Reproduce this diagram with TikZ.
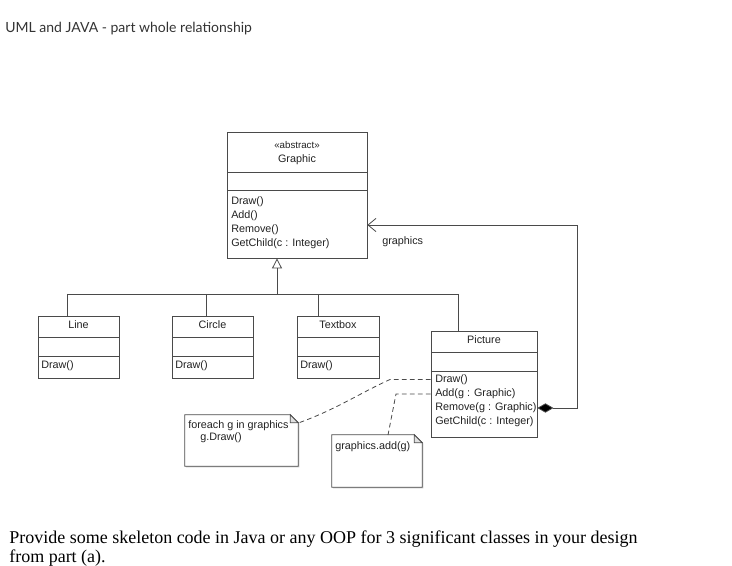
\documentclass[tikz,border=0pt]{standalone}
\usepackage{fontspec}
\setmainfont{Liberation Sans}
\newfontfamily\titlefont{Lato}
\newfontfamily\bodyserif{Liberation Serif}
\usetikzlibrary{arrows.meta,fit,calc,shadows}
\definecolor{umlline}{HTML}{4A4A4A}
\definecolor{umltext}{HTML}{222222}
\definecolor{titlegray}{HTML}{333333}
\begin{document}
\begin{tikzpicture}[x=0.75pt,y=-0.75pt,
  umlbox/.style={draw=umlline, line width=0.6pt, inner sep=0pt, fill=white,
    drop shadow={shadow xshift=0.9pt, shadow yshift=-0.9pt, opacity=0.35, fill=black!60}},
  umltxt/.style={font=\fontsize{8.1}{9.5}\selectfont, text=umltext, inner sep=0pt},
  conn/.style={draw=umlline, line width=0.6pt},
  dashconn/.style={conn, dash pattern=on 3.5pt off 2.5pt},
  notebox/.style={inner sep=0pt},
]
\useasboundingbox (0,0) rectangle (732,566);

% title
\node[anchor=base west, font=\titlefont\fontsize{10.5}{12}\selectfont, text=titlegray, inner sep=0pt] (title) at (5,32.5) {UML and JAVA - part whole relationship};

% Graphic class
\node[umlbox, fit={(227,132) (367,258)}] (graphic) {};
\draw[conn] (227,172) -- (367,172);
\draw[conn] (227,190) -- (367,190);
\node[umltxt, font=\fontsize{7.3}{8.5}\selectfont] (gster) at (297,145) {«abstract»};
\node[umltxt] (gname) at (297,160) {Graphic};
\node[umltxt, anchor=west] (gop1) at (231,202) {Draw()};
\node[umltxt, anchor=west] (gop2) at (231,216) {Add()};
\node[umltxt, anchor=west] (gop3) at (231,230) {Remove()};
\node[umltxt, anchor=west] (gop4) at (231,244) {GetChild(c : Integer)};

% Line class
\node[umlbox, fit={(38,316) (119,378)}] (line) {};
\draw[conn] (38,337) -- (119,337);
\draw[conn] (38,356) -- (119,356);
\node[umltxt] (lname) at (78.5,325) {Line};
\node[umltxt, anchor=west] (lop) at (41,366) {Draw()};

% Circle class
\node[umlbox, fit={(172,316) (253,378)}] (circle) {};
\draw[conn] (172,337) -- (253,337);
\draw[conn] (172,356) -- (253,356);
\node[umltxt] (cname) at (212.5,325) {Circle};
\node[umltxt, anchor=west] (cop) at (175,366) {Draw()};

% Textbox class
\node[umlbox, fit={(297,316) (379,378)}] (textbox) {};
\draw[conn] (297,337) -- (379,337);
\draw[conn] (297,356) -- (379,356);
\node[umltxt] (tname) at (338,325) {Textbox};
\node[umltxt, anchor=west] (top) at (300,366) {Draw()};

% Picture class
\node[umlbox, fit={(431,331) (537,437)}] (picture) {};
\draw[conn] (431,352) -- (537,352);
\draw[conn] (431,371) -- (537,371);
\node[umltxt] (pname) at (484,340) {Picture};
\node[umltxt, anchor=west] (pop1) at (435,380) {Draw()};
\node[umltxt, anchor=west] (pop2) at (435,394) {Add(g : Graphic)};
\node[umltxt, anchor=west] (pop3) at (435,408) {Remove(g : Graphic)};
\node[umltxt, anchor=west] (pop4) at (435,422) {GetChild(c : Integer)};

% generalization tree
\coordinate (jl) at (67,294);
\coordinate (jc) at (206,294);
\coordinate (jg) at (277,294);
\coordinate (jt) at (318,294);
\coordinate (jp) at (458,294);
\draw[conn] (jl) -- (jp);
\draw[conn] (jl) -- (jl |- line.north);
\draw[conn] (jc) -- (jc |- circle.north);
\draw[conn] (jt) -- (jt |- textbox.north);
\draw[conn] (jp) -- (jp |- picture.north);
\draw[conn, -{Triangle[open, length=7.5pt, width=7.5pt, fill=white]}] (jg) -- (jg |- graphic.south);

% composition
\coordinate (ka) at (577,408);
\coordinate (kb) at (577,225);
\draw[conn, line join=miter, {Diamond[length=12pt, width=7pt, fill=black]}-{Straight Barb[length=6pt, width=10pt]}]
  (picture.east |- ka) -- (ka) -- (kb) -- (graphic.east |- kb);
\node[umltxt, anchor=west] (rolelbl) at (382,242) {graphics};

% notes
\node[notebox, fit={(185,415) (298,466)}] (note1) {};
\draw[conn, fill=white, drop shadow={shadow xshift=0.9pt, shadow yshift=-0.9pt, opacity=0.35, fill=black!60}]
  (note1.north west) -- ([xshift=-6pt]note1.north east) -- ([yshift=-6pt]note1.north east)
  -- (note1.south east) -- (note1.south west) -- cycle;
\draw[conn, fill=black!12] ([xshift=-6pt]note1.north east) -- ([xshift=-6pt,yshift=-6pt]note1.north east) -- ([yshift=-6pt]note1.north east) -- cycle;
\node[umltxt, anchor=west] (n1t1) at (188,425.5) {foreach g in graphics};
\node[umltxt, anchor=west] (n1t2) at (200,438) {g.Draw()};

\node[notebox, fit={(332,435) (422,487)}] (note2) {};
\draw[conn, fill=white, drop shadow={shadow xshift=0.9pt, shadow yshift=-0.9pt, opacity=0.35, fill=black!60}]
  (note2.north west) -- ([xshift=-6pt]note2.north east) -- ([yshift=-6pt]note2.north east)
  -- (note2.south east) -- (note2.south west) -- cycle;
\draw[conn, fill=black!12] ([xshift=-6pt]note2.north east) -- ([xshift=-6pt,yshift=-6pt]note2.north east) -- ([yshift=-6pt]note2.north east) -- cycle;
\node[umltxt, anchor=west] (n2t1) at (335,447) {graphics.add(g)};

% note anchors (dashed)
\coordinate (d1) at (390,379.5);
\coordinate (d2) at (396,394);
\coordinate (n1a) at (298,423);
\coordinate (n2a) at (388,435);
\draw[dashconn] (picture.west |- d1) -- (d1) .. controls (362,392) and (335,410) .. (note1.east |- n1a);
\draw[dashconn] (picture.west |- d2) -- (d2) -- (n2a);

% task text
\node[anchor=north west, align=left, font=\bodyserif\fontsize{13.5}{14.3}\selectfont, text=black, inner sep=0pt] (task) at (9,530.5)
  {Provide some skeleton code in Java or any OOP for 3 significant classes in your design\\from part (a).};
\end{tikzpicture}
\end{document}
